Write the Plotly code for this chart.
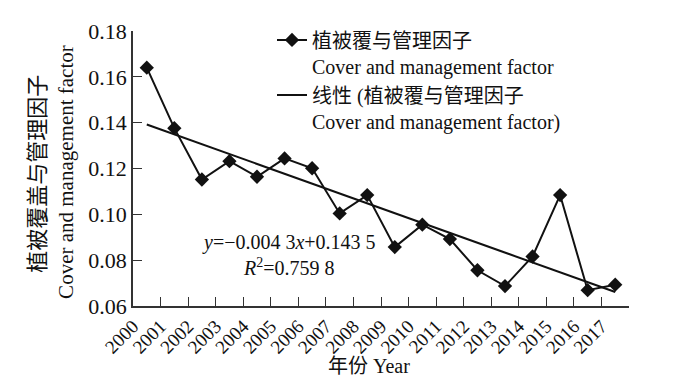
import plotly.graph_objects as go

years = [str(y) for y in range(2000, 2018)]
c_factor = [0.1640, 0.1376, 0.1152, 0.1232, 0.1164, 0.1244, 0.1201, 0.1004, 0.1084,
            0.0857, 0.0955, 0.0892, 0.0756, 0.0687, 0.0816, 0.1084, 0.0669, 0.0693]
slope = -0.0043
intercept = 0.1435
y_ticks = [0.06, 0.08, 0.10, 0.12, 0.14, 0.16, 0.18]

FONT = "Liberation Serif, 'Noto Sans CJK SC', serif"
n = len(years)
xpos = [i + 0.5 for i in range(n)]
trend = [slope * (i + 1) + intercept for i in range(n)]

# page body has an 8px margin; figure is sized so that it fills the 700x387 window
OFF = 8
PL, PR, PT, PB = 133, 629, 21, 306  # plot area in window pixels
W, H = 700 - 2 * OFF, 387 - 2 * OFF
pw, ph = PR - PL, PB - PT


def px(xw):
    return (xw - PL) / pw


def py(yw):
    return (PB - yw) / ph


fig = go.Figure()
fig.add_trace(go.Scatter(
    x=xpos, y=c_factor, mode="lines+markers",
    name="植被覆与管理因子<br>Cover and management factor",
    line=dict(color="#111111", width=2),
    marker=dict(symbol="diamond", size=11, color="#111111"),
))
fig.add_trace(go.Scatter(
    x=xpos, y=trend, mode="lines",
    name="线性 (植被覆与管理因子<br>Cover and management factor)",
    line=dict(color="#111111", width=2),
))

fig.update_layout(
    width=W, height=H,
    margin=dict(l=PL - OFF, r=W - (PR - OFF), t=PT - OFF, b=H - (PB - OFF)),
    paper_bgcolor="white", plot_bgcolor="white",
    font=dict(family=FONT, size=20, color="#111111"),
    showlegend=True,
    legend=dict(x=px(272), y=py(10), xanchor="left", yanchor="top",
                bgcolor="rgba(0,0,0,0)", font=dict(size=20, family=FONT),
                valign="top", tracegroupgap=1, itemwidth=30),
    xaxis=dict(range=[0, n], tickmode="array", tickvals=list(range(n)),
               ticktext=years, tickangle=-45, ticks="inside", ticklen=9,
               tickcolor="#333333", showline=True, linecolor="#333333", linewidth=1.5,
               showgrid=False, zeroline=False, tickfont=dict(size=19), automargin=False,
               minor=dict(tick0=0, dtick=1, ticks="inside", ticklen=9, tickcolor="#333333")),
    yaxis=dict(range=[0.06, 0.18], tickmode="array", tickvals=y_ticks,
               ticktext=[f"{v:.2f}" for v in y_ticks], ticks="inside", ticklen=9,
               tickcolor="#333333", showline=True, linecolor="#333333", linewidth=1.5,
               showgrid=False, zeroline=False, tickfont=dict(size=22), automargin=False),
)


def note(text, xw, yw, size, angle=0):
    fig.add_annotation(text=text, xref="paper", yref="paper", x=px(xw), y=py(yw),
                       xanchor="center", yanchor="middle", textangle=angle,
                       showarrow=False, font=dict(size=size))


note("植被覆盖与管理因子", 38, 169, 22, -90)
note("Cover and management factor", 66, 167, 21, -90)
note("年份 Year", 369, 368, 20)
note("<i>y</i>=−0.004 3<i>x</i>+0.143 5", 288.5, 240, 20)
note("<i>R</i><sup>2</sup>=0.759 8", 289, 266, 20)

fig.write_html("out.html")
